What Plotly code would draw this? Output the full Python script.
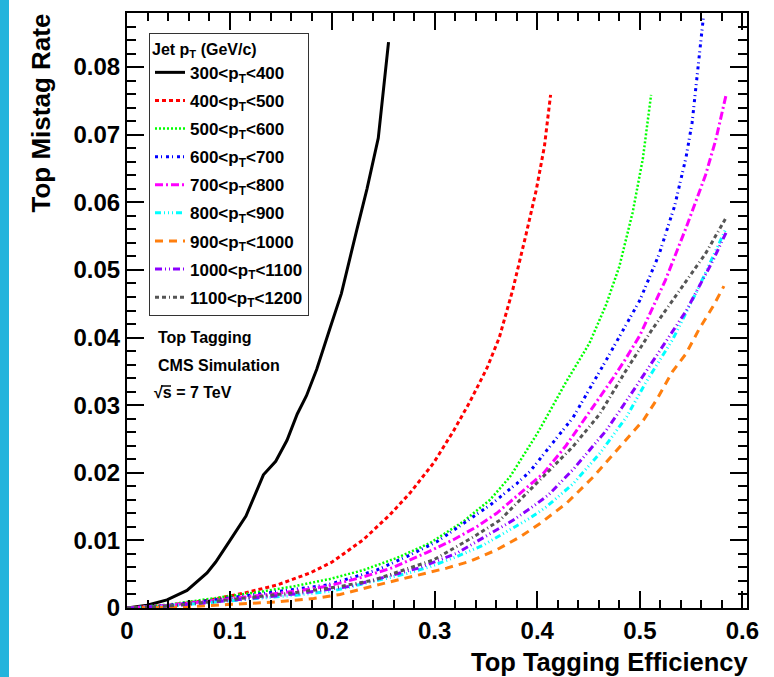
import plotly.graph_objects as go

# ---------------- data ----------------
x_300_400 = [0, 0.0195, 0.039, 0.0585, 0.078, 0.0865, 0.1, 0.116, 0.133, 0.145, 0.156, 0.166, 0.175, 0.185, 0.198, 0.209, 0.224, 0.234, 0.245, 0.255]
y_300_400 = [0, 0.0004, 0.0012, 0.0026, 0.0052, 0.0068, 0.0099, 0.0136, 0.0197, 0.0217, 0.0248, 0.0287, 0.0314, 0.0353, 0.0414, 0.0465, 0.0559, 0.0620, 0.0695, 0.0837]

x_400_500 = [0, 0.04, 0.0813, 0.1138, 0.1463, 0.1788, 0.2, 0.2304, 0.2564, 0.2759, 0.2987, 0.318, 0.334, 0.351, 0.363, 0.376, 0.389, 0.399, 0.407, 0.413]
y_400_500 = [0, 0.0004, 0.0012, 0.0022, 0.0034, 0.0052, 0.0068, 0.0101, 0.0138, 0.0170, 0.0214, 0.0261, 0.0304, 0.0355, 0.0400, 0.0470, 0.0552, 0.0618, 0.0683, 0.0759]

x_500_600 = [0, 0.04, 0.078, 0.13, 0.1625, 0.1979, 0.2304, 0.263, 0.2954, 0.328, 0.3539, 0.3734, 0.40, 0.428, 0.451, 0.467, 0.48, 0.493, 0.503, 0.511]
y_500_600 = [0, 0.0005, 0.0013, 0.0024, 0.0032, 0.0043, 0.0056, 0.0074, 0.0096, 0.0128, 0.0160, 0.0194, 0.0258, 0.0334, 0.0392, 0.0448, 0.0505, 0.0585, 0.0665, 0.0759]

x_600_700 = [0, 0.04, 0.08, 0.13, 0.165, 0.195, 0.2109, 0.2434, 0.2727, 0.302, 0.328, 0.3539, 0.38, 0.3929, 0.435, 0.467, 0.5, 0.519, 0.534, 0.545, 0.551, 0.556, 0.562]
y_600_700 = [0, 0.0004, 0.0011, 0.0021, 0.0028, 0.0034, 0.0041, 0.0056, 0.0076, 0.0098, 0.0125, 0.0152, 0.0184, 0.0202, 0.0282, 0.0366, 0.0455, 0.0524, 0.0595, 0.0666, 0.0718, 0.0790, 0.0874]

x_700_800 = [0, 0.04, 0.08, 0.13, 0.165, 0.195, 0.2304, 0.2597, 0.2922, 0.3182, 0.3409, 0.3604, 0.3832, 0.4059, 0.428, 0.441, 0.457, 0.473, 0.486, 0.5, 0.525, 0.545, 0.564, 0.574, 0.584]
y_700_800 = [0, 0.0004, 0.0010, 0.0019, 0.0025, 0.0032, 0.0046, 0.0060, 0.0082, 0.0101, 0.0120, 0.0140, 0.0170, 0.0199, 0.0240, 0.0268, 0.0303, 0.0338, 0.0368, 0.0403, 0.0485, 0.0562, 0.0640, 0.0692, 0.0758]

x_800_900 = [0, 0.04, 0.08, 0.13, 0.165, 0.2, 0.2434, 0.2727, 0.2954, 0.3215, 0.3474, 0.3702, 0.3929, 0.4092, 0.4352, 0.4612, 0.4872, 0.506, 0.532, 0.558, 0.584]
y_800_900 = [0, 0.0003, 0.0008, 0.0014, 0.0019, 0.0025, 0.0040, 0.0051, 0.0061, 0.0076, 0.0093, 0.0113, 0.0133, 0.0150, 0.0184, 0.0229, 0.0283, 0.0334, 0.0397, 0.0476, 0.0561]

x_900_1000 = [0, 0.0488, 0.0975, 0.146, 0.182, 0.2077, 0.2467, 0.2857, 0.3117, 0.3344, 0.3604, 0.3832, 0.4027, 0.4286, 0.4547, 0.4839, 0.5036, 0.5164, 0.532, 0.545, 0.558, 0.571, 0.582]
y_900_1000 = [0, 0.0001, 0.0005, 0.0009, 0.0014, 0.0020, 0.0035, 0.0049, 0.0059, 0.0069, 0.0086, 0.0105, 0.0125, 0.0155, 0.0194, 0.0244, 0.0278, 0.0308, 0.0350, 0.0376, 0.0413, 0.0445, 0.0476]

x_1000_1100 = [0, 0.04, 0.08, 0.13, 0.165, 0.2174, 0.263, 0.2841, 0.3215, 0.3572, 0.3767, 0.3929, 0.4108, 0.435, 0.467, 0.493, 0.519, 0.545, 0.571, 0.584]
y_1000_1100 = [0, 0.0003, 0.0008, 0.0015, 0.0021, 0.0032, 0.0051, 0.0059, 0.0081, 0.0113, 0.0130, 0.0147, 0.0167, 0.0205, 0.0262, 0.0320, 0.0380, 0.0439, 0.0513, 0.0555]

x_1100_1200 = [0, 0.04, 0.08, 0.13, 0.165, 0.2045, 0.2402, 0.2987, 0.3182, 0.3377, 0.3637, 0.3832, 0.4027, 0.435, 0.461, 0.486, 0.512, 0.538, 0.564, 0.584]
y_1100_1200 = [0, 0.0003, 0.0009, 0.0017, 0.0023, 0.0031, 0.0041, 0.0071, 0.0088, 0.0105, 0.0130, 0.0160, 0.0190, 0.0239, 0.0287, 0.0350, 0.0412, 0.0468, 0.0524, 0.0577]

series_names = ["300&lt;p<sub>T</sub>&lt;400", "400&lt;p<sub>T</sub>&lt;500", "500&lt;p<sub>T</sub>&lt;600",
                "600&lt;p<sub>T</sub>&lt;700", "700&lt;p<sub>T</sub>&lt;800", "800&lt;p<sub>T</sub>&lt;900",
                "900&lt;p<sub>T</sub>&lt;1000", "1000&lt;p<sub>T</sub>&lt;1100", "1100&lt;p<sub>T</sub>&lt;1200"]

x_tick_vals = [0, 0.1, 0.2, 0.3, 0.4, 0.5, 0.6]
x_tick_text = ["0", "0.1", "0.2", "0.3", "0.4", "0.5", "0.6"]
y_tick_vals = [0, 0.01, 0.02, 0.03, 0.04, 0.05, 0.06, 0.07, 0.08]
y_tick_text = ["0", "0.01", "0.02", "0.03", "0.04", "0.05", "0.06", "0.07", "0.08"]

# ---------------- styles ----------------
FONT = "Liberation Sans, Arial, Helvetica, sans-serif"
styles = [
    dict(color="#000000", width=3, dash="solid"),
    dict(color="#ff0000", width=3, dash="4px,3px"),
    dict(color="#00ff00", width=2.5, dash="2px,2px"),
    dict(color="#0000ff", width=3, dash="3px,3px,1px,4px"),
    dict(color="#ff00ff", width=3, dash="8px,3px,2px,3px"),
    dict(color="#00ffff", width=3, dash="6px,3px,1px,3px,1px,3px,1px,3px"),
    dict(color="#ff7f0e", width=3, dash="8px,6px"),
    dict(color="#8b00ff", width=3, dash="7px,3px,1px,3px,1px,3px"),
    dict(color="#555555", width=3, dash="4px,3px,4px,3px,1px,3px"),
]
xs = [x_300_400, x_400_500, x_500_600, x_600_700, x_700_800, x_800_900, x_900_1000, x_1000_1100, x_1100_1200]
ys = [y_300_400, y_400_500, y_500_600, y_600_700, y_700_800, y_800_900, y_900_1000, y_1000_1100, y_1100_1200]

fig = go.Figure()
for i, (xv, yv, nm, st) in enumerate(zip(xs, ys, series_names, styles)):
    fig.add_trace(go.Scatter(x=xv, y=yv, mode="lines", name=nm, legendgroup=f"g{i}",
                             line=st, hoverinfo="skip"))

W, H = 774, 677
L, R, T, B = 127, 27, 13, 69
pw, ph = W - L - R, H - T - B

def px_x(px):
    return (px - L) / pw

def px_y(py):
    return (H - B - py) / ph

axis_common = dict(
    showgrid=False, zeroline=False, showline=True, linecolor="#000", linewidth=2,
    mirror="allticks", ticks="inside", ticklen=17, tickwidth=1.5, tickcolor="#000",
    tickfont=dict(family=FONT, size=24, color="#000", weight="bold"),
)
fig.update_xaxes(range=[0, 0.6045], tickvals=x_tick_vals, ticktext=x_tick_text,
                 minor=dict(ticks="inside", dtick=0.02, ticklen=8, tickwidth=1.5, tickcolor="#000", showgrid=False),
                 **axis_common)
fig.update_yaxes(range=[0, 0.088], tickvals=y_tick_vals, ticktext=y_tick_text,
                 minor=dict(ticks="inside", dtick=0.002, ticklen=9, tickwidth=1.5, tickcolor="#000", showgrid=False),
                 **axis_common)

fig.update_layout(
    width=W, height=H, margin=dict(l=L, r=R, t=T, b=B, pad=0),
    plot_bgcolor="white", paper_bgcolor="white",
    showlegend=True,
    legend=dict(
        x=px_x(149), y=px_y(33), xanchor="left", yanchor="top",
        bgcolor="white", bordercolor="#333", borderwidth=1,
        font=dict(family=FONT, size=17, color="#000", weight="bold"),
        title=dict(text="Jet p<sub>T</sub> (GeV/c)", font=dict(family=FONT, size=16, color="#000", weight="bold")),
        tracegroupgap=3, itemwidth=30,
    ),
    shapes=[
        dict(type="rect", xref="paper", yref="paper",
             x0=px_x(0), x1=px_x(9), y0=px_y(H + 5), y1=px_y(-5),
             fillcolor="#23b4dc", line=dict(width=0), layer="above"),
        dict(type="line", xref="paper", yref="paper",
             x0=px_x(161), x1=px_x(171), y0=px_y(386), y1=px_y(386),
             line=dict(color="#000", width=1.5), layer="above"),
    ],
    annotations=[
        dict(text="Top Tagging Efficiency", xref="paper", yref="paper", x=px_x(751), y=px_y(662),
             xanchor="right", yanchor="middle", showarrow=False,
             font=dict(family=FONT, size=25.5, color="#000", weight="bold")),
        dict(text="Top Mistag Rate", xref="paper", yref="paper", x=px_x(40), y=px_y(12),
             xanchor="center", yanchor="top", textangle=-90, showarrow=False,
             font=dict(family=FONT, size=26, color="#000", weight="bold")),
        dict(text="Top Tagging", xref="paper", yref="paper", x=px_x(156), y=px_y(337),
             xanchor="left", yanchor="middle", showarrow=False,
             font=dict(family=FONT, size=16, color="#000", weight="bold")),
        dict(text="CMS Simulation", xref="paper", yref="paper", x=px_x(156), y=px_y(365),
             xanchor="left", yanchor="middle", showarrow=False,
             font=dict(family=FONT, size=16, color="#000", weight="bold")),
        dict(text="√s = 7 TeV", xref="paper", yref="paper", x=px_x(152), y=px_y(393),
             xanchor="left", yanchor="middle", showarrow=False,
             font=dict(family=FONT, size=16, color="#000", weight="bold")),
    ],
)

fig.write_html("out.html")
